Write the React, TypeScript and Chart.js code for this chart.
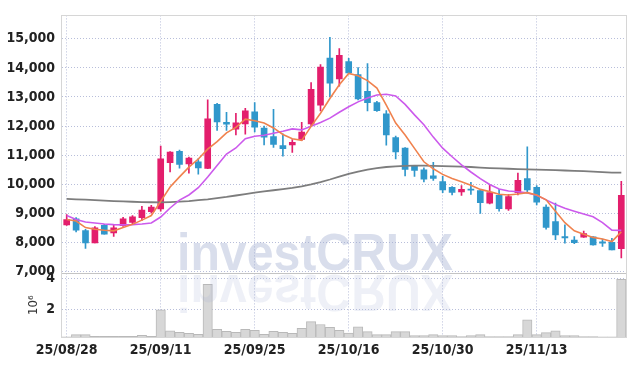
import React, { useEffect, useRef } from 'react';
import { Chart, registerables } from 'chart.js';

Chart.register(...registerables);

const DATES = [
  '25/08/28', '25/08/29', '25/09/01', '25/09/02', '25/09/03', '25/09/04', '25/09/05', '25/09/08', '25/09/09', '25/09/10',
  '25/09/11', '25/09/12', '25/09/15', '25/09/16', '25/09/17', '25/09/18', '25/09/19', '25/09/22', '25/09/23', '25/09/24',
  '25/09/25', '25/09/26', '25/09/29', '25/09/30', '25/10/01', '25/10/02', '25/10/10', '25/10/13', '25/10/14', '25/10/15',
  '25/10/16', '25/10/17', '25/10/20', '25/10/21', '25/10/22', '25/10/23', '25/10/24', '25/10/27', '25/10/28', '25/10/29',
  '25/10/30', '25/10/31', '25/11/03', '25/11/04', '25/11/05', '25/11/06', '25/11/07', '25/11/10', '25/11/11', '25/11/12',
  '25/11/13', '25/11/14', '25/11/17', '25/11/18', '25/11/19', '25/11/20', '25/11/21', '25/11/24', '25/11/25', '25/11/26',
];

const OPEN = [
  8600, 8810, 8400, 7980, 8580, 8320, 8570, 8680, 8850, 9050,
  9150, 10740, 11130, 10700, 10770, 10540, 12750, 12130, 11890, 12070,
  12490, 11930, 11640, 11330, 11350, 11540, 12070, 12720, 14340, 13620,
  14220, 13770, 13190, 12810, 12420, 11600, 11240, 10620, 10490, 10290,
  10090, 9890, 9730, 9830, 9780, 9350, 9620, 9150, 9710, 10190,
  9890, 9210, 8710, 8200, 8080, 8180, 8190, 8020, 8000, 7780,
];
const HIGH = [
  8950, 8850, 8450, 8540, 8620, 8600, 8860, 8920, 9240, 9270,
  11310, 11120, 11170, 10930, 10880, 12900, 12780, 12470, 12440, 12610,
  12810, 12000, 12570, 11730, 11530, 12130, 13490, 14110, 15050, 14660,
  14330, 14010, 14150, 12850, 12530, 11650, 11260, 10640, 10560, 10750,
  10270, 9920, 9950, 10060, 9810, 9970, 9820, 9650, 10380, 11280,
  9950, 9290, 9350, 8600, 8200, 8390, 8200, 8110, 8140, 10100,
];
const LOW = [
  8580, 8360, 7790, 7980, 8280, 8200, 8550, 8640, 8750, 9000,
  9070, 10420, 10550, 10380, 10340, 10530, 11850, 11850, 11690, 11720,
  11800, 11350, 11260, 10960, 11090, 11500, 11990, 12520, 13000, 13370,
  13800, 12900, 12520, 12500, 11340, 10870, 10280, 10270, 10080, 10130,
  9710, 9630, 9610, 9650, 8990, 9320, 9070, 9100, 9630, 9710,
  9290, 8450, 8090, 7970, 7950, 8170, 7900, 7860, 7740, 7460,
];
const CLOSE = [
  8780, 8420, 7980, 8500, 8280, 8500, 8810, 8880, 9110, 9210,
  10870, 11100, 10680, 10900, 10560, 12250, 12140, 12060, 12110, 12520,
  11960, 11620, 11370, 11220, 11440, 11790, 13260, 14030, 13470, 14430,
  13830, 12930, 12800, 12530, 11690, 11110, 10510, 10470, 10170, 10200,
  9800, 9720, 9820, 9790, 9360, 9710, 9160, 9570, 10130, 9800,
  9380, 8510, 8250, 8150, 7990, 8300, 7910, 7970, 7740, 9620,
];

const MA_SHORT = [
  8786, 8730, 8506, 8449, 8415, 8395, 8506, 8617, 8763, 8920,
  9406, 9900, 10250, 10586, 10866, 11203, 11462, 11766, 11955, 12238,
  12181, 12103, 11934, 11709, 11560, 11506, 11989, 12440, 12946, 13418,
  13809, 13732, 13563, 13303, 12720, 12103, 11690, 11230, 10770, 10529,
  10337, 10192, 10080, 9966, 9821, 9743, 9652, 9629, 9660, 9709,
  9629, 9460, 9069, 8675, 8395, 8280, 8169, 8111, 8024, 8360,
];
const MA_MID = [
  8920, 8786, 8698, 8664, 8630, 8607, 8600, 8607, 8630, 8664,
  8870, 9180, 9450, 9628, 9878, 10249, 10640, 11034, 11244, 11564,
  11651, 11685, 11753, 11820, 11900, 11867, 11989, 12123, 12271, 12474,
  12663, 12831, 12966, 13067, 13091, 13034, 12744, 12383, 12046, 11618,
  11237, 10943, 10663, 10418, 10192, 9989, 9831, 9764, 9740, 9700,
  9620, 9460, 9300, 9170, 9070, 8970, 8880, 8680, 8420, 8410,
];
const MA_LONG = [
  9494, 9480, 9465, 9450, 9435, 9420, 9405, 9395, 9385, 9378,
  9375, 9385, 9400, 9420, 9450, 9480, 9520, 9560, 9610, 9660,
  9710, 9750, 9790, 9830, 9870, 9920, 9990, 10070, 10160, 10260,
  10350, 10430, 10500, 10550, 10590, 10610, 10630, 10640, 10640, 10630,
  10620, 10610, 10600, 10590, 10570, 10555, 10540, 10530, 10520, 10510,
  10500, 10490, 10480, 10470, 10460, 10445, 10430, 10415, 10400, 10395,
];

// volume in millions of shares (axis title 10^6)
const VOLUME = [
  0.2, 0.35, 0.35, 0.24, 0.24, 0.24, 0.24, 0.24, 0.3, 0.24,
  1.96, 0.6, 0.5, 0.43, 0.37, 3.64, 0.69, 0.56, 0.5, 0.69,
  0.63, 0.37, 0.56, 0.5, 0.43, 0.76, 1.2, 1.01, 0.82, 0.63,
  0.45, 0.86, 0.54, 0.35, 0.35, 0.54, 0.54, 0.28, 0.28, 0.35,
  0.28, 0.28, 0.22, 0.28, 0.35, 0.22, 0.22, 0.22, 0.35, 1.31,
  0.35, 0.48, 0.6, 0.28, 0.28, 0.22, 0.22, 0.2, 0.2, 3.96,
];

const PRICE_MIN = 6935;
const PRICE_MAX = 15805;
const PRICE_TICKS = [7000, 8000, 9000, 10000, 11000, 12000, 13000, 14000, 15000];
const VOL_MIN = 0.19;
const VOL_MAX = 4.36;
const VOL_TICKS = [2, 4];
const VOL_TITLE = '10⁶';
const WATERMARK = 'investCRUX';

const UP = '#e31e6c';
const DOWN = '#3097cb';
const GRID = 'rgba(160,168,205,0.75)';
const TICK_FONT = "'Liberation Sans Narrow', 'DejaVu Sans Condensed', 'Roboto', sans-serif";

export default function App() {
  const ref = useRef<HTMLCanvasElement>(null);

  useEffect(() => {
    if (!ref.current) return;
    const colors = CLOSE.map((c, i) => (c >= OPEN[i] ? UP : DOWN));

    const watermark = {
      id: 'watermark',
      afterDatasetsDraw(chart: any) {
        const ctx = chart.ctx as CanvasRenderingContext2D;
        ctx.save();
        ctx.font = "bold 52px 'Liberation Sans', Arial, sans-serif";
        const w = ctx.measureText(WATERMARK).width;
        const sx = 276 / w;
        ctx.textBaseline = 'alphabetic';
        ctx.save();
        ctx.translate(177, 270);
        ctx.scale(sx, 1);
        ctx.fillStyle = 'rgba(160,172,208,0.4)';
        ctx.fillText(WATERMARK, 0, 0);
        ctx.restore();
        ctx.save();
        ctx.translate(177, 272.5);
        ctx.scale(sx, -1);
        ctx.fillStyle = 'rgba(160,172,208,0.18)';
        ctx.fillText(WATERMARK, 0, -2.5);
        ctx.restore();
        ctx.restore();
      },
    };

    const frame = {
      id: 'frame',
      afterDraw(chart: any) {
        const ctx = chart.ctx as CanvasRenderingContext2D;
        const a = chart.chartArea;
        ctx.save();
        ctx.strokeStyle = '#d6d6d6';
        ctx.lineWidth = 1;
        ctx.strokeRect(Math.round(a.left) - 0.5, Math.round(a.top) + 0.5, Math.round(a.right - a.left) + 1, Math.round(a.bottom - a.top));
        const ys = Math.round(chart.scales.y.bottom) + 0.5;
        ctx.strokeStyle = '#c4c4c4';
        ctx.beginPath();
        ctx.moveTo(a.left, ys);
        ctx.lineTo(a.right, ys);
        ctx.stroke();
        ctx.restore();
      },
    };

    const tickFont = { family: TICK_FONT, size: 14, weight: 'bold' as const };

    const chart = new Chart(ref.current, {
      data: {
        labels: DATES,
        datasets: [
          {
            type: 'line', label: 'MA short', data: MA_SHORT, yAxisID: 'y',
            borderColor: '#f0824e', borderWidth: 1.6, pointRadius: 0, order: 0,
          },
          {
            type: 'line', label: 'MA mid', data: MA_MID, yAxisID: 'y',
            borderColor: '#cc5aec', borderWidth: 1.6, pointRadius: 0, order: 0,
          },
          {
            type: 'line', label: 'MA long', data: MA_LONG, yAxisID: 'y',
            borderColor: '#7d7d7d', borderWidth: 1.8, pointRadius: 0, order: 0,
          },
          {
            type: 'bar', label: 'body', data: OPEN.map((o, i) => [o, CLOSE[i]]) as any, yAxisID: 'y',
            backgroundColor: colors, barThickness: 6, grouped: false, order: 1,
          },
          {
            type: 'bar', label: 'wick', data: LOW.map((l, i) => [l, HIGH[i]]) as any, yAxisID: 'y',
            backgroundColor: colors, barThickness: 1, grouped: false, order: 2,
          },
          {
            type: 'bar', label: 'volume', data: VOLUME, yAxisID: 'yv',
            backgroundColor: '#d7d7d7', borderColor: '#b9b9b9', borderWidth: 1,
            barPercentage: 1, categoryPercentage: 1, grouped: false, order: 3, clip: 0 as any,
          },
        ] as any,
      },
      options: {
        animation: false,
        responsive: true,
        maintainAspectRatio: false,
        layout: { padding: { top: 9, right: 9, left: 0, bottom: 0 } },
        plugins: { legend: { display: false }, tooltip: { enabled: false } },
        scales: {
          x: {
            type: 'category',
            offset: true,
            grid: {
              offset: false,
              drawTicks: false,
              color: (c: any) => (c.index % 10 === 0 ? GRID : 'transparent'),
            },
            border: { display: false, dash: [1, 2] },
            ticks: {
              autoSkip: false,
              maxRotation: 0,
              padding: 5,
              color: '#222',
              font: tickFont,
              callback: (_v: any, i: number) => (i % 10 === 0 ? DATES[i] : ''),
            },
            afterFit: (s: any) => { s.height = 29; },
          },
          yv: {
            type: 'linear',
            position: 'left',
            stack: 'panels',
            stackWeight: 65,
            min: VOL_MIN,
            max: VOL_MAX,
            grid: { color: GRID, drawTicks: false },
            border: { display: false, dash: [1, 2] },
            afterBuildTicks: (s: any) => { s.ticks = VOL_TICKS.map((v) => ({ value: v })); },
            ticks: {
              autoSkip: false,
              padding: 7,
              color: '#222',
              font: tickFont,
              callback: (v: any) => String(v),
            },
            title: {
              display: true,
              text: VOL_TITLE,
              color: '#333',
              font: { family: TICK_FONT, size: 13 },
              padding: { top: 26, bottom: 0 },
            },
            afterFit: (s: any) => { s.width = 62; },
          },
          y: {
            type: 'linear',
            position: 'left',
            stack: 'panels',
            stackWeight: 263,
            min: PRICE_MIN,
            max: PRICE_MAX,
            grid: { color: GRID, drawTicks: false },
            border: { display: false, dash: [1, 2] },
            afterBuildTicks: (s: any) => { s.ticks = PRICE_TICKS.map((v) => ({ value: v })); },
            ticks: {
              autoSkip: false,
              padding: 7,
              color: '#222',
              font: tickFont,
              callback: (v: any) => Number(v).toLocaleString('en-US'),
            },
            afterFit: (s: any) => { s.width = 62; },
          },
        },
      } as any,
      plugins: [watermark, frame],
    });
    return () => chart.destroy();
  }, []);

  return (
    <div style={{ position: 'fixed', left: 0, top: 0, width: 635, height: 366, background: '#fff' }}>
      <canvas ref={ref} />
    </div>
  );
}
